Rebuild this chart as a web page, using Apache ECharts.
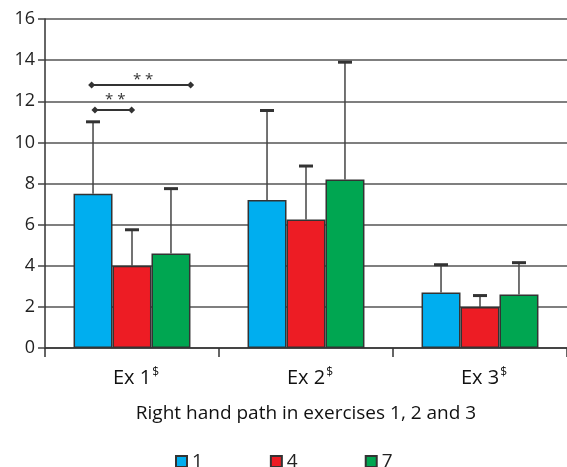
<!DOCTYPE html>
<html><head><meta charset="utf-8">
<script src="https://cdn.jsdelivr.net/npm/echarts@6/dist/echarts.min.js"></script>
<style>html,body{margin:0;padding:0;background:#fff}#c{width:567px;height:467px}</style>
</head><body><div id="c"></div>
<script>
const categories = ['Ex 1', 'Ex 2', 'Ex 3'];
const seriesNames = ['1', '4', '7'];
const means1 = [7.5, 7.2, 2.7];
const means4 = [4.0, 6.25, 2.0];
const means7 = [4.6, 8.2, 2.6];
const upper1 = [11.0, 11.55, 4.05];
const upper4 = [5.75, 8.85, 2.55];
const upper7 = [7.75, 13.9, 4.15];
const yMin = 0, yMax = 16, yStep = 2;
// significance brackets: start / end (category units), line value, label value
const bracketStart = [-0.232, -0.213];
const bracketEnd = [0.337, -0.002];
const bracketY = [12.79, 11.58];
const bracketLabelY = [13.23, 12.26];
const bracketLabel = ['**', '**'];

const colors = ['#00AEEF', '#ED1C24', '#00A651'];
const means = [means1, means4, means7];
const uppers = [upper1, upper4, upper7];
const BAR_RATIO = 0.224;
const FONT = 'Open Sans';

const barSeries = seriesNames.map((n, k) => ({
  name: n, type: 'bar', data: means[k],
  barWidth: (BAR_RATIO * 100) + '%', barGap: '0%',
  itemStyle: { color: colors[k], borderColor: '#333', borderWidth: 1.5 },
  z: 2
}));

const errSeries = seriesNames.map((n, k) => ({
  type: 'custom', name: 'err' + n, z: 5, silent: true,
  data: categories.map((c, i) => [i, means[k][i], uppers[k][i]]),
  renderItem: function (params, api) {
    const ci = api.value(0);
    const base = api.coord([ci, api.value(1)]);
    const top = api.coord([ci, api.value(2)]);
    const bw = api.size([1, 0])[0] * BAR_RATIO;
    const x = base[0] + (k - 1) * bw;
    return { type: 'group', children: [
      { type: 'line', shape: { x1: x, y1: base[1], x2: x, y2: top[1] }, style: { stroke: '#444', lineWidth: 1.5 } },
      { type: 'line', shape: { x1: x - 7, y1: top[1], x2: x + 7, y2: top[1] }, style: { stroke: '#333', lineWidth: 3 } }
    ]};
  }
}));

const bracketSeries = {
  type: 'custom', name: 'sig', xAxisIndex: 1, yAxisIndex: 0, z: 6, silent: true,
  encode: { x: [0, 1], y: [2, 3] },
  data: bracketY.map((y, i) => [bracketStart[i], bracketEnd[i], y, bracketLabelY[i]]),
  renderItem: function (params, api) {
    const p1 = api.coord([api.value(0), api.value(2)]);
    const p2 = api.coord([api.value(1), api.value(2)]);
    const pl = api.coord([(api.value(0) + api.value(1)) / 2, api.value(3)]);
    const d = 3.5;
    const dia = (p) => ({ type: 'polygon', shape: { points: [[p[0] - d, p[1]], [p[0], p[1] - d], [p[0] + d, p[1]], [p[0], p[1] + d]] }, style: { fill: '#333' } });
    return { type: 'group', children: [
      { type: 'line', shape: { x1: p1[0], y1: p1[1], x2: p2[0], y2: p2[1] }, style: { stroke: '#333', lineWidth: 2 } },
      dia(p1), dia(p2),
      { type: 'text', style: { text: bracketLabel[params.dataIndex].split('').join(' '), x: pl[0] + 2, y: pl[1] + 4, align: 'center', verticalAlign: 'middle', fill: '#333', font: '15px "' + FONT + '"' } }
    ]};
  }
};

const chart = echarts.init(document.getElementById('c'));
chart.setOption({
  animation: false,
  textStyle: { fontFamily: FONT },
  grid: { left: 45, right: 0, top: 19, bottom: 119, containLabel: false },
  legend: {
    data: seriesNames, left: 175, top: 452, padding: 0, icon: 'rect', itemWidth: 11, itemHeight: 11, itemGap: 67,
    textStyle: { fontSize: 19, color: '#222', fontFamily: FONT }
  },
  xAxis: [{
    type: 'category', data: categories,
    axisLine: { onZero: false, lineStyle: { color: '#333', width: 1.5 } },
    axisTick: { show: true, length: 9, interval: 0, lineStyle: { color: '#333', width: 1.5 } },
    axisLabel: {
      margin: 19, interval: 0,
      formatter: v => '{a|' + v + '}{s|$}',
      rich: { a: { fontSize: 20, color: '#111', fontFamily: FONT, padding: [0, 0, 0, 8] }, s: { fontSize: 12, color: '#111', fontFamily: FONT, padding: [0, 0, 11, 1] } }
    },
    name: 'Right hand path in exercises 1, 2 and 3', nameLocation: 'middle', nameGap: 56,
    nameTextStyle: { fontSize: 19, color: '#111', fontFamily: FONT }
  }, {
    type: 'value', show: false, min: -0.5, max: 2.5,
    axisLine: { show: false, onZero: false }, splitLine: { show: false }
  }],
  yAxis: {
    type: 'value', min: yMin, max: yMax, interval: yStep,
    axisLine: { show: true, onZero: false, lineStyle: { color: '#333', width: 1.5 } },
    axisTick: { show: true, length: 7, lineStyle: { color: '#444', width: 1.5 } },
    splitLine: { lineStyle: { color: '#555', width: 1.5 } },
    axisLabel: { fontSize: 18, color: '#222', margin: 10, fontFamily: FONT }
  },
  series: [...barSeries, ...errSeries, bracketSeries]
});
</script></body></html>
